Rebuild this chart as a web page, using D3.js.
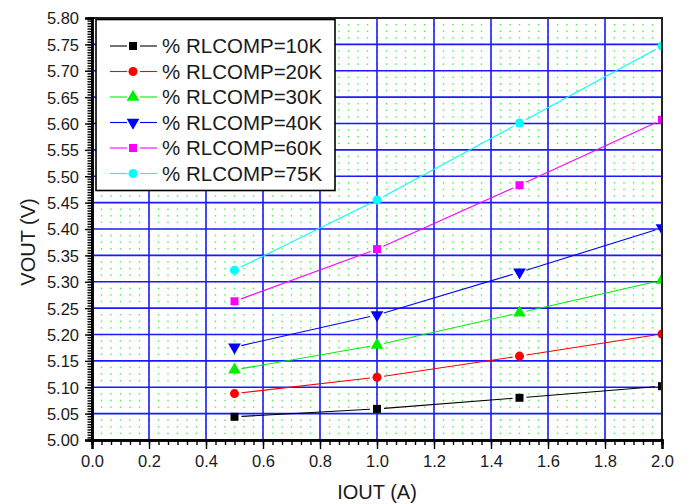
<!DOCTYPE html>
<html>
<head>
<meta charset="utf-8">
<script src="https://cdn.jsdelivr.net/npm/d3@7"></script>
<style>
  body { margin: 0; background: #fff; }
  svg text { font-family: "Liberation Sans", Arial, sans-serif; fill: #1a1a1a; }
</style>
</head>
<body>
<svg width="689" height="504"></svg>
<script>
// data
var currents = [0.5, 1.0, 1.5, 2.0];
var rl10k = [5.044, 5.059, 5.080, 5.102];
var rl20k = [5.088, 5.119, 5.159, 5.201];
var rl30k = [5.133, 5.180, 5.241, 5.303];
var rl40k = [5.176, 5.237, 5.318, 5.402];
var rl60k = [5.263, 5.362, 5.483, 5.607];
var rl75k = [5.322, 5.455, 5.601, 5.747];
var seriesNames = ['% RLCOMP=10K', '% RLCOMP=20K', '% RLCOMP=30K',
                   '% RLCOMP=40K', '% RLCOMP=60K', '% RLCOMP=75K'];
var xTicks = d3.range(0, 2.0001, 0.2);
var yTicks = d3.range(5.0, 5.8001, 0.05);

// styles
var colors = ['#000000', '#ff0000', '#00f000', '#0000ff', '#ff00ff', '#00ffff'];
var symbols = [d3.symbolSquare, d3.symbolCircle, d3.symbolTriangle,
               d3.symbolTriangle, d3.symbolSquare, d3.symbolCircle];
var rotations = [0, 0, 0, 180, 0, 0];

var allSeries = [rl10k, rl20k, rl30k, rl40k, rl60k, rl75k];

var L = 92, R = 662, T = 18, B = 440;
var svg = d3.select('svg');
var sx = d3.scaleLinear().domain([0, 2]).range([L, R]),
    sy = d3.scaleLinear().domain([5.0, 5.8]).range([B, T]);

svg.append('clipPath').attr('id', 'plotclip')
  .append('rect').attr('x', L).attr('y', T).attr('width', R - L).attr('height', B - T);

// green dotted minor grid
var gx = d3.range(0, 2.0001, 0.2 / 6),
    gy = d3.range(5.0, 5.8001, 0.0125);
var dots = [];
gx.forEach(function(x) { gy.forEach(function(y) { dots.push([x, y]); }); });
svg.append('g').selectAll('rect').data(dots).enter().append('rect')
  .attr('x', function(d) { return sx(d[0]) - 0.7; })
  .attr('y', function(d) { return sy(d[1]) - 0.7; })
  .attr('width', 1.4).attr('height', 1.4)
  .attr('fill', '#44f044');

// blue major grid
var grid = svg.append('g').attr('stroke', '#1a1aff').attr('stroke-width', 1.6);
grid.selectAll('.vx').data(xTicks.slice(1, -1)).enter().append('line')
  .attr('x1', sx).attr('x2', sx).attr('y1', T).attr('y2', B);
grid.selectAll('.hy').data(yTicks.slice(1, -1)).enter().append('line')
  .attr('y1', sy).attr('y2', sy).attr('x1', L).attr('x2', R);

// series
var plot = svg.append('g').attr('clip-path', 'url(#plotclip)');
var GAP = 7;
allSeries.forEach(function(vals, si) {
  var pts = currents.map(function(c, i) { return [sx(c), sy(vals[i])]; });
  var segs = d3.pairs(pts).map(function(p) {
    var dx = p[1][0] - p[0][0], dy = p[1][1] - p[0][1],
        len = Math.sqrt(dx * dx + dy * dy), ux = dx / len, uy = dy / len;
    return [p[0][0] + ux * GAP, p[0][1] + uy * GAP, p[1][0] - ux * GAP, p[1][1] - uy * GAP];
  });
  plot.append('g').selectAll('line').data(segs).enter().append('line')
    .attr('x1', function(d) { return d[0]; }).attr('y1', function(d) { return d[1]; })
    .attr('x2', function(d) { return d[2]; }).attr('y2', function(d) { return d[3]; })
    .attr('stroke', colors[si]).attr('stroke-width', 1.1);
  plot.append('g').selectAll('path').data(pts).enter().append('path')
    .attr('d', d3.symbol().type(symbols[si]).size(symbols[si] === d3.symbolTriangle ? 70 : 64))
    .attr('transform', function(d) { return 'translate(' + d[0] + ',' + d[1] + ') rotate(' + rotations[si] + ')'; })
    .attr('fill', colors[si]);
});

// frame
svg.append('rect').attr('x', L).attr('y', T).attr('width', R - L).attr('height', B - T)
  .attr('fill', 'none').attr('stroke', '#222').attr('stroke-width', 2);

// axes
var yMinor = svg.append('g').attr('transform', 'translate(' + L + ',0)')
  .call(d3.axisLeft(sy).tickValues(d3.range(5.0, 5.8001, 0.005)).tickSize(4.5).tickFormat(''));
var yAxis = svg.append('g').attr('transform', 'translate(' + L + ',0)')
  .call(d3.axisLeft(sy).tickValues(yTicks).tickSize(7).tickPadding(6).tickFormat(d3.format('.2f')));
var xMinor = svg.append('g').attr('transform', 'translate(0,' + B + ')')
  .call(d3.axisBottom(sx).tickValues(gx).tickSize(5).tickFormat(''));
var xAxis = svg.append('g').attr('transform', 'translate(0,' + B + ')')
  .call(d3.axisBottom(sx).tickValues(xTicks).tickSize(9).tickPadding(6).tickFormat(d3.format('.1f')));

[yMinor, yAxis, xMinor, xAxis].forEach(function(g) {
  g.select('.domain').attr('stroke', '#000').attr('stroke-width', 2.5);
  g.selectAll('.tick line').attr('stroke', '#000').attr('stroke-width', 1.4);
  g.selectAll('.tick text').attr('font-size', 16.5).attr('fill', '#222')
    .attr('font-family', '"Liberation Sans", Arial, sans-serif');
});
yAxis.selectAll('.tick text').attr('dy', '0.36em');

svg.append('text').attr('x', sx(1)).attr('y', 499).attr('text-anchor', 'middle')
  .attr('font-size', 20).text('IOUT (A)');
svg.append('text').attr('transform', 'translate(35,242) rotate(-90)').attr('text-anchor', 'middle')
  .attr('font-size', 20).text('VOUT (V)');

// legend
var lg = svg.append('g');
lg.append('rect').attr('x', 96).attr('y', 19.5).attr('width', 239).attr('height', 171)
  .attr('fill', '#fff').attr('stroke', '#000').attr('stroke-width', 1.6);
seriesNames.forEach(function(name, i) {
  var y = 46 + i * 25.5;
  lg.append('line').attr('x1', 110).attr('x2', 127).attr('y1', y).attr('y2', y)
    .attr('stroke', colors[i]).attr('stroke-width', 1.1);
  lg.append('line').attr('x1', 140).attr('x2', 157).attr('y1', y).attr('y2', y)
    .attr('stroke', colors[i]).attr('stroke-width', 1.1);
  lg.append('path')
    .attr('d', d3.symbol().type(symbols[i]).size(symbols[i] === d3.symbolTriangle ? 70 : 64))
    .attr('transform', 'translate(133,' + y + ') rotate(' + rotations[i] + ')')
    .attr('fill', colors[i]);
  lg.append('text').attr('x', 162).attr('y', y + 7.3).attr('font-size', 20.5).text(name);
});
</script>
</body>
</html>
